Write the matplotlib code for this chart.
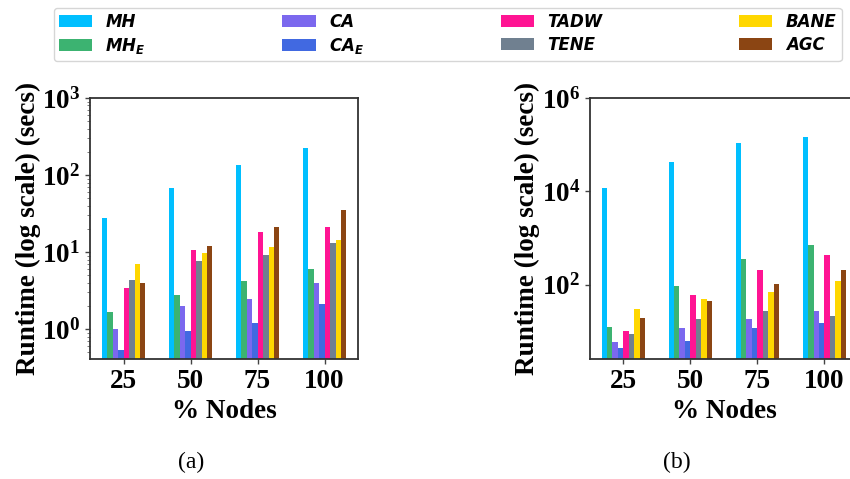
import numpy as np
import matplotlib
matplotlib.use("Agg")
import matplotlib.pyplot as plt

plt.rcParams["font.family"] = ["Liberation Serif", "DejaVu Serif"]
plt.rcParams["font.weight"] = "bold"
plt.rcParams["mathtext.default"] = "regular"

# ──────────────────────────────────────────────
# data
# ──────────────────────────────────────────────
pct_nodes = ["25", "50", "75", "100"]
methods = ["MH", "MH$_E$", "CA", "CA$_E$", "TADW", "TENE", "BANE", "AGC"]
colors = ["deepskyblue", "mediumseagreen", "mediumslateblue", "royalblue",
          "deeppink", "slategray", "gold", "saddlebrown"]

# (a) runtime, secs
mh_a    = [28, 68, 136, 225]
mhe_a   = [1.68, 2.8, 4.25, 6.1]
ca_a    = [1.0, 2.0, 2.48, 4.0]
cae_a   = [0.54, 0.95, 1.21, 2.13]
tadw_a  = [3.45, 10.7, 18.4, 21.3]
tene_a  = [4.35, 7.7, 9.2, 13.2]
bane_a  = [7.0, 9.8, 11.7, 14.4]
agc_a   = [4.0, 12.1, 21.3, 35.5]

# (b) runtime, secs
mh_b    = [11900, 43500, 106000, 148000]
mhe_b   = [12.6, 95, 360, 720]
ca_b    = [6.0, 12, 18.7, 27.5]
cae_b   = [4.3, 6.3, 11.5, 15.3]
tadw_b  = [10.4, 61, 210, 440]
tene_b  = [8.9, 18.7, 27.5, 21.7]
bane_b  = [30.6, 50, 71, 122]
agc_b   = [19.7, 45, 105, 210]

series_a = [mh_a, mhe_a, ca_a, cae_a, tadw_a, tene_a, bane_a, agc_a]
series_b = [mh_b, mhe_b, ca_b, cae_b, tadw_b, tene_b, bane_b, agc_b]

BAR_W = 0.082
x = np.arange(len(pct_nodes))

fig = plt.figure(figsize=(8.5, 4.79), dpi=100)
ax_a = fig.add_axes([0.1059, 0.2505, 0.3153, 0.5449])
ax_b = fig.add_axes([0.6941, 0.2505, 0.3153, 0.5449])


def draw(ax, series, ylim, majors):
    n = len(series)
    for i, (vals, c, lab) in enumerate(zip(series, colors, methods)):
        offs = (i - (n - 1) / 2) * BAR_W
        ax.bar(x + offs, vals, BAR_W, color=c, label=lab)
    ax.set_yscale("log")
    ax.set_ylim(*ylim)
    ax.set_xlim(-0.5, 3.5)
    ax.set_xticks(x)
    ax.set_xticklabels(pct_nodes)
    if majors is not None:
        ax.set_yticks(majors)
        ax.yaxis.set_minor_locator(matplotlib.ticker.NullLocator())
    ax.tick_params(axis="both", labelsize=19.5, length=3.5, width=1, color="#444444")
    ax.tick_params(axis="y", which="minor", length=2.5, color="#666666")
    for s in ax.spines.values():
        s.set_color("#333333")
        s.set_linewidth(1.3)
    ax.set_xlabel("% Nodes", fontsize=19.5, fontweight="bold", labelpad=4)
    ax.set_ylabel("Runtime (log scale) (secs)", fontsize=19.5, fontweight="bold",
                  labelpad=1)


draw(ax_a, series_a, (0.41, 1000), None)
draw(ax_b, series_b, (2.55, 1e6), [1e2, 1e4, 1e6])

handles, labels = ax_a.get_legend_handles_labels()
fig.legend(handles, labels, loc="upper center", bbox_to_anchor=(0.5265, 0.983),
           borderaxespad=0, ncol=4, columnspacing=8.2, labelspacing=0.3,
           borderpad=0.3,
           prop={"family": "DejaVu Sans", "weight": "bold", "style": "italic", "size": 12})

fig.text(191 / 850, 1 - 462 / 479, "(a)", fontsize=17, fontweight="normal",
         ha="center", va="center")
fig.text(677 / 850, 1 - 462 / 479, "(b)", fontsize=17, fontweight="normal",
         ha="center", va="center")

fig.savefig("out.png", dpi=100)
